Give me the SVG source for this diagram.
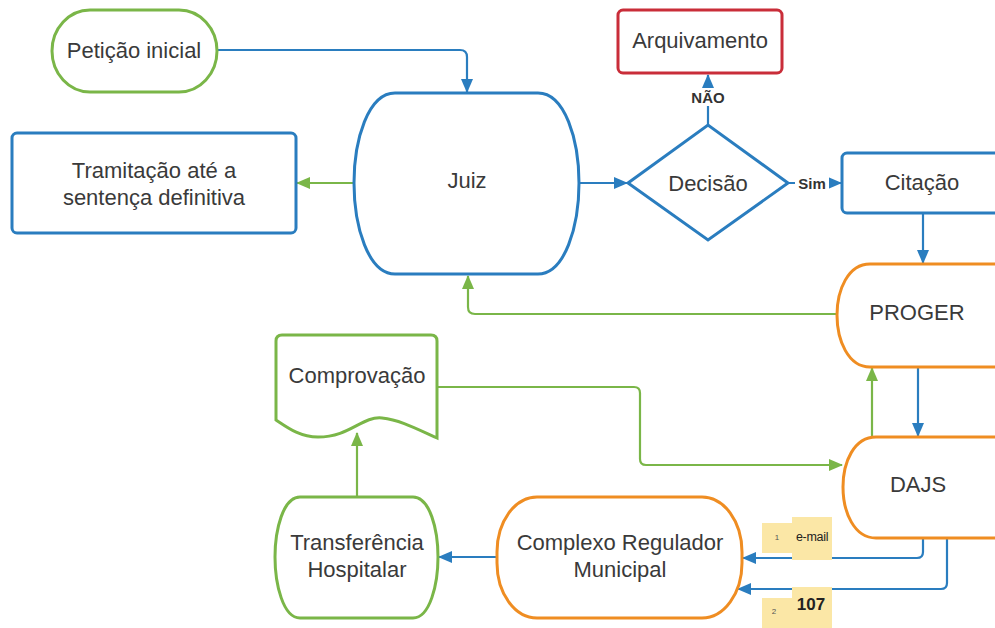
<svg xmlns="http://www.w3.org/2000/svg" width="995" height="628" viewBox="0 0 995 628">
<style>
.t{font-family:"Liberation Sans",Arial,sans-serif;font-size:22px;fill:#3a3a3a;text-anchor:middle;dominant-baseline:central}
.lb{font-family:"Liberation Sans",Arial,sans-serif;font-size:15px;font-weight:bold;fill:#333;text-anchor:middle;dominant-baseline:central}
.sm{font-family:"Liberation Sans",Arial,sans-serif;font-size:8px;fill:#555;text-anchor:middle;dominant-baseline:central}
.blue{fill:#fff;stroke:#2a7dbf;stroke-width:3}
.green{fill:#fff;stroke:#7ab648;stroke-width:3}
.orange{fill:#fff;stroke:#ef8d22;stroke-width:3}
.red{fill:#fff;stroke:#c92d39;stroke-width:3}
.cb{fill:none;stroke:#2a7dbf;stroke-width:2.2}
.cg{fill:none;stroke:#7ab648;stroke-width:2.2}
.note{fill:#fbe7a6}
</style>
<defs>
<marker id="ab" markerUnits="userSpaceOnUse" markerWidth="14" markerHeight="12" refX="13" refY="6" orient="auto">
<path d="M0,0 L14,6 L0,12 Z" fill="#2a7dbf"/>
</marker>
<marker id="ag" markerUnits="userSpaceOnUse" markerWidth="14" markerHeight="12" refX="13" refY="6" orient="auto">
<path d="M0,0 L14,6 L0,12 Z" fill="#7ab648"/>
</marker>
</defs>
<rect width="995" height="628" fill="#fff"/>

<g id="connectors">
<path class="cb" d="M217,50 L460,50 Q467,50 467,57 L467,92" marker-end="url(#ab)"/>
<path class="cg" d="M354,183 L297,183" marker-end="url(#ag)"/>
<path class="cb" d="M579,183 L627,183" marker-end="url(#ab)"/>
<path class="cb" d="M708,125 L708,75" marker-end="url(#ab)"/>
<path class="cb" d="M788,183 L841,183" marker-end="url(#ab)"/>
<path class="cb" d="M923,213 L923,263" marker-end="url(#ab)"/>
<path class="cg" d="M837,314 L475,314 Q468,314 468,307 L468,276" marker-end="url(#ag)"/>
<path class="cb" d="M918,367 L918,436" marker-end="url(#ab)"/>
<path class="cg" d="M872,440 L872,368" marker-end="url(#ag)"/>
<path class="cg" d="M437,387 L634,387 Q640,387 640,393 L640,459 Q640,465 646,465 L842,465" marker-end="url(#ag)"/>
<path class="cg" d="M357,497 L357,433" marker-end="url(#ag)"/>
<path class="cb" d="M497,557 L439,557" marker-end="url(#ab)"/>
<path class="cb" d="M923,538 L923,552 Q923,558 917,558 L743,558" marker-end="url(#ab)"/>
<path class="cb" d="M947,538 L947,583 Q947,589 941,589 L738,589" marker-end="url(#ab)"/>
<rect x="686" y="88" width="44" height="18" fill="#fff"/>
<text class="lb" x="708" y="97">NÃO</text>
<rect x="795" y="174" width="34" height="18" fill="#fff"/>
<text class="lb" x="812" y="183">Sim</text>
</g>

<g id="peticao">
<rect class="green" x="52" y="10" width="165" height="82" rx="38" ry="41"/>
<text class="t" x="134" y="50">Petição inicial</text>
</g>

<g id="juiz">
<path class="blue" d="M395,93 L538,93 C565,93 579,140 579,183 C579,226 565,274 538,274 L395,274 C368,274 354,226 354,183 C354,140 368,93 395,93 Z"/>
<text class="t" x="467" y="180">Juiz</text>
</g>

<g id="tramitacao">
<rect class="blue" x="12" y="133" width="284" height="100" rx="5"/>
<text class="t" x="154" y="170">Tramitação até a</text>
<text class="t" x="154" y="197">sentença definitiva</text>
</g>

<g id="arquivamento">
<rect class="red" x="618" y="10" width="164" height="63" rx="5"/>
<text class="t" x="700" y="40">Arquivamento</text>
</g>

<g id="decisao">
<polygon class="blue" points="628,183 708,125 788,183 708,240"/>
<text class="t" x="708" y="183">Decisão</text>
</g>

<g id="citacao">
<rect class="blue" x="842" y="153" width="170" height="60" rx="5"/>
<text class="t" x="922" y="182">Citação</text>
</g>

<g id="proger">
<path class="orange" d="M1012,264 L870,264 C848,264 837,290 837,315 C837,340 848,367 870,367 L1012,367 Z"/>
<text class="t" x="917" y="312">PROGER</text>
</g>

<g id="dajs">
<path class="orange" d="M1012,437 L876,437 C854,437 843,462 843,487 C843,512 854,538 876,538 L1012,538 Z"/>
<text class="t" x="918" y="484">DAJS</text>
</g>

<g id="comprovacao">
<path class="green" d="M282,335 L431,335 Q437,335 437,341 L437,438 C415,428 400,420 382,418 C362,416 350,437 318,437 C300,437 288,428 276,420 L276,341 Q276,335 282,335 Z"/>
<text class="t" x="357" y="375">Comprovação</text>
</g>

<g id="transferencia">
<path class="green" d="M300,497 L413,497 C430,497 438,530 438,557 C438,584 430,618 413,618 L300,618 C283,618 275,584 275,557 C275,530 283,497 300,497 Z"/>
<text class="t" x="357" y="542">Transferência</text>
<text class="t" x="357" y="569">Hospitalar</text>
</g>

<g id="complexo">
<rect class="orange" x="497" y="497" width="245" height="121" rx="40" ry="55"/>
<text class="t" x="620" y="542">Complexo Regulador</text>
<text class="t" x="620" y="569">Municipal</text>
</g>

<g id="note-email">
<rect class="note" x="762" y="523" width="30" height="30"/>
<rect class="note" x="792" y="517" width="40" height="43"/>
<text class="sm" x="777" y="537">1</text>
<text class="t" x="812" y="537" style="font-size:12.5px;fill:#222;letter-spacing:-0.3px">e-mail</text>
</g>

<g id="note-107">
<rect class="note" x="762" y="598" width="30" height="30"/>
<rect class="note" x="792" y="587" width="40" height="41"/>
<text class="sm" x="774" y="611">2</text>
<text class="t" x="811" y="604" style="font-size:17px;font-weight:bold;fill:#222">107</text>
</g>
</svg>
